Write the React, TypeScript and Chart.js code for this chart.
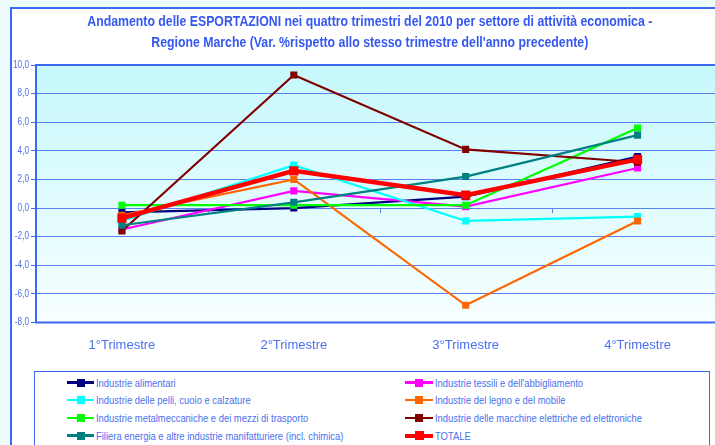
import React, { useEffect, useRef } from "react";
import { Chart, registerables } from "chart.js";

Chart.register(...registerables);

// ---------- data ----------
const categories = ["1°Trimestre", "2°Trimestre", "3°Trimestre", "4°Trimestre"];

const seriesNames = [
  "Industrie alimentari",
  "Industrie tessili e dell'abbigliamento",
  "Industrie delle pelli, cuoio e calzature",
  "Industrie del legno e del mobile",
  "Industrie metalmeccaniche e dei mezzi di trasporto",
  "Industrie delle macchine elettriche ed elettroniche",
  "Filiera energia e altre industrie manifatturiere (incl. chimica)",
  "TOTALE",
];

const alimentari = [-0.3, 0.0, 0.8, 3.6];
const tessili = [-1.5, 1.2, 0.1, 2.8];
const pelli = [-0.9, 3.0, -0.9, -0.6];
const legno = [-0.5, 2.0, -6.8, -0.9];
const metalmeccaniche = [0.2, 0.2, 0.2, 5.6];
const macchineElettriche = [-1.6, 9.3, 4.1, 3.2];
const filieraEnergia = [-1.2, 0.4, 2.2, 5.1];
const totale = [-0.7, 2.6, 0.9, 3.4];

const seriesValues = [
  alimentari,
  tessili,
  pelli,
  legno,
  metalmeccaniche,
  macchineElettriche,
  filieraEnergia,
  totale,
];

const yMin = -8;
const yMax = 10;
const yStep = 2;

const titleLines = [
  "Andamento delle ESPORTAZIONI nei quattro trimestri del 2010 per settore di attività economica -",
  "Regione Marche (Var. %rispetto allo stesso trimestre dell'anno precedente)",
];

// ---------- styles ----------
const seriesColors = [
  "#000080",
  "#ff00ff",
  "#00ffff",
  "#ff6600",
  "#00ff00",
  "#800000",
  "#008080",
  "#ff0000",
];

const SANS = "'Liberation Sans', Arial, sans-serif";
const NARROW_SCALE = 0.82; // emulate Arial Narrow
const TITLE_BLUE = "#3558f0";
const TEXT_BLUE = "#4a70f0";
const GRID_BLUE = "#5a82f2";
const BORDER_BLUE = "#3d68f2";

const CANVAS_W = 720;
const CANVAS_H = 437;

function drawNarrowText(
  ctx: CanvasRenderingContext2D,
  text: string,
  x: number,
  y: number,
  font: string,
  color: string,
  align: CanvasTextAlign
) {
  ctx.save();
  ctx.font = font;
  ctx.fillStyle = color;
  ctx.textBaseline = "middle";
  ctx.textAlign = align;
  ctx.translate(x, y);
  ctx.scale(NARROW_SCALE, 1);
  ctx.fillText(text, 0, 0);
  ctx.restore();
}

const plotDecor = {
  id: "plotDecor",
  beforeDraw(chart: any) {
    const { ctx, chartArea: a } = chart;
    const g = ctx.createLinearGradient(0, a.top, 0, a.bottom);
    g.addColorStop(0, "#c6f8fc");
    g.addColorStop(1, "#f8ffff");
    ctx.save();
    ctx.fillStyle = g;
    ctx.fillRect(a.left, a.top, a.right - a.left, a.bottom - a.top);
    ctx.restore();
  },
  beforeDatasetsDraw(chart: any) {
    const { ctx, chartArea: a, scales } = chart;
    ctx.save();
    ctx.strokeStyle = BORDER_BLUE;
    ctx.lineWidth = 2;
    ctx.strokeRect(a.left, a.top, a.right - a.left, a.bottom - a.top);
    // category axis crossing at 0 with tick marks between categories
    const y0 = scales.y.getPixelForValue(0);
    ctx.lineWidth = 1;
    ctx.strokeStyle = GRID_BLUE;
    for (let i = 0; i < categories.length - 1; i++) {
      const x =
        Math.round(
          (scales.x.getPixelForValue(i) + scales.x.getPixelForValue(i + 1)) / 2
        ) + 0.5;
      ctx.beginPath();
      ctx.moveTo(x, y0);
      ctx.lineTo(x, y0 + 5);
      ctx.stroke();
    }
    ctx.restore();

    // y tick labels (narrow)
    const ys = scales.y;
    ys.ticks.forEach((t: any) => {
      const py = ys.getPixelForValue(t.value);
      drawNarrowText(
        ctx,
        Number(t.value).toFixed(1).replace(".", ","),
        a.left - 7,
        py,
        `10px ${SANS}`,
        TEXT_BLUE,
        "right"
      );
    });

    // title (narrow bold)
    const cx = (a.left + a.right) / 2 - 10;
    titleLines.forEach((line, i) => {
      drawNarrowText(
        ctx,
        line,
        cx,
        14 + i * 21,
        `bold 15px ${SANS}`,
        TITLE_BLUE,
        "center"
      );
    });
  },
};

function Legend() {
  const rowsY = [381.5, 399, 417, 434.5];
  return (
    <div
      style={{
        position: "absolute",
        left: 34,
        top: 371,
        width: 676,
        height: 120,
        border: `1.5px solid ${BORDER_BLUE}`,
        background: "#ffffff",
        boxSizing: "border-box",
      }}
    >
      {seriesNames.map((name, i) => {
        const col = i % 2;
        const row = Math.floor(i / 2);
        const mx = col === 0 ? 66 : 404;
        const mw = col === 0 ? 27 : 28;
        const tx = col === 0 ? 95 : 434;
        const cy = rowsY[row] - 371;
        const isTot = i === seriesNames.length - 1;
        const lh = isTot ? 4 : 2.5;
        const sq = isTot ? 9 : 8;
        return (
          <React.Fragment key={name}>
            <div
              style={{
                position: "absolute",
                left: mx - 34,
                top: cy - lh / 2,
                width: mw,
                height: lh,
                background: seriesColors[i],
              }}
            />
            <div
              style={{
                position: "absolute",
                left: mx - 34 + mw / 2 - sq / 2,
                top: cy - sq / 2,
                width: sq,
                height: sq,
                background: seriesColors[i],
              }}
            />
            <div
              style={{
                position: "absolute",
                left: tx - 34,
                top: cy - 8,
                height: 16,
                lineHeight: "16px",
                fontFamily: SANS,
                fontSize: 11.5,
                color: TEXT_BLUE,
                whiteSpace: "nowrap",
                transform: `scaleX(${NARROW_SCALE})`,
                transformOrigin: "0 50%",
              }}
            >
              {name}
            </div>
          </React.Fragment>
        );
      })}
    </div>
  );
}

export default function App() {
  const canvasRef = useRef<HTMLCanvasElement | null>(null);

  useEffect(() => {
    const canvas = canvasRef.current;
    if (!canvas) return;
    const n = seriesValues.length;
    const chart = new Chart(canvas, {
      type: "line",
      data: {
        labels: categories,
        datasets: seriesValues.map((vals, i) => {
          const isTot = i === n - 1;
          return {
            label: seriesNames[i],
            data: vals,
            borderColor: seriesColors[i],
            backgroundColor: seriesColors[i],
            borderWidth: isTot ? 4.5 : 2.2,
            pointStyle: "rect",
            pointRadius: isTot ? 6.5 : 5,
            pointBorderWidth: 0,
            pointBackgroundColor: seriesColors[i],
            tension: 0,
            fill: false,
            order: n - 1 - i,
          };
        }),
      },
      options: {
        responsive: false,
        animation: false,
        devicePixelRatio: 1,
        layout: {
          padding: { left: 0, top: 57, right: 6, bottom: 82.5 },
        },
        plugins: {
          legend: { display: false },
          tooltip: { enabled: false },
          title: { display: false },
        },
        scales: {
          x: {
            offset: true,
            grid: { display: false, drawTicks: false },
            border: { display: false },
            ticks: {
              color: TEXT_BLUE,
              font: { family: SANS, size: 13 },
              padding: 15,
              maxRotation: 0,
            },
            afterFit(scale: any) {
              scale.height = 40;
            },
          },
          y: {
            min: yMin,
            max: yMax,
            grid: {
              color: GRID_BLUE,
              lineWidth: 1,
              drawTicks: true,
              tickLength: 5,
              tickColor: BORDER_BLUE,
            },
            border: { display: false },
            ticks: {
              stepSize: yStep,
              display: false,
            },
            afterFit(scale: any) {
              scale.width = 26;
            },
          },
        },
      },
      plugins: [plotDecor],
    });
    return () => chart.destroy();
  }, []);

  return (
    <div
      style={{
        position: "fixed",
        left: 0,
        top: 0,
        width: 715,
        height: 445,
        overflow: "hidden",
        background: "#effcfd",
      }}
    >
      <div
        style={{
          position: "absolute",
          left: 10,
          top: 7,
          width: 760,
          height: 480,
          background: "#ffffff",
          borderLeft: `2px solid ${BORDER_BLUE}`,
          borderTop: `2px solid ${BORDER_BLUE}`,
        }}
      />
      <canvas
        ref={canvasRef}
        width={CANVAS_W}
        height={CANVAS_H}
        style={{
          position: "absolute",
          left: 10,
          top: 8,
          width: CANVAS_W,
          height: CANVAS_H,
        }}
      />
      <Legend />
    </div>
  );
}
